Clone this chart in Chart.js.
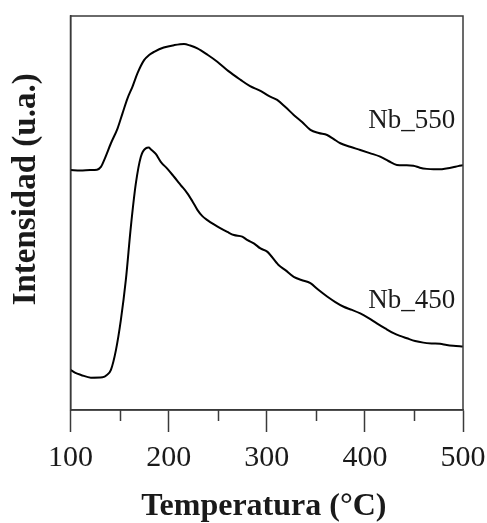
<!DOCTYPE html>
<html>
<head>
<meta charset="utf-8">
<script src="https://cdn.jsdelivr.net/npm/chart.js@4/dist/chart.umd.min.js"></script>
<style>
  html, body { margin: 0; padding: 0; background: #fff; }
  canvas { display: block; }
</style>
</head>
<body>
<canvas id="tpd" width="487" height="523"></canvas>
<script>
// TPD profiles: temperature (°C) and intensity (arbitrary units)
const temps550 = [100, 110, 120, 127, 131, 134.4, 141.2, 148, 153, 158.1, 163.2, 168.3, 175, 180.1, 185.2, 195, 205.5, 215.7, 222, 229.3, 240, 249.6, 261, 273.3, 283, 293.6, 302, 310.6, 319, 327.5, 336, 344.5, 353, 361.5, 368, 375, 385, 395.3, 405, 415.6, 424, 432.6, 441, 449.5, 456, 463.1, 470, 476.5, 483, 489.8, 495, 500];
const int550 = [60.9, 60.8, 60.9, 61.0, 61.7, 63.5, 67.7, 71.5, 75.3, 79.1, 82.1, 85.5, 88.8, 90.1, 90.9, 92.0, 92.6, 92.9, 92.5, 91.8, 90.1, 88.4, 86.0, 83.8, 82.2, 81.0, 79.7, 78.7, 76.9, 74.9, 73.1, 71.1, 70.3, 69.8, 68.8, 67.7, 66.8, 66.0, 65.2, 64.3, 63.2, 62.2, 62.1, 62.0, 61.5, 61.2, 61.1, 61.1, 61.3, 61.6, 61.9, 62.1];

const temps450 = [100, 105, 110.7, 120.8, 132.7, 137.1, 141.2, 146.3, 151.3, 156.4, 161.5, 166.6, 171.7, 176.7, 179.8, 181.8, 186.9, 192, 198.8, 205.5, 212.3, 219.1, 224.2, 229.3, 234.4, 239.5, 246.2, 253, 259.8, 266.5, 275, 280.4, 286.8, 293.6, 300.4, 312, 319, 327.5, 335.3, 344.5, 352.6, 361.5, 369.9, 378.4, 386.9, 395.3, 403.4, 412.2, 420.7, 429.2, 435.9, 442.8, 451.2, 459.6, 468.1, 476.6, 483.4, 490.1, 500];
const int450 = [10.2, 9.4, 8.9, 8.2, 8.3, 8.9, 10.2, 15.2, 22.8, 33.0, 46.5, 57.5, 64.3, 66.4, 66.6, 66.2, 65.0, 63.0, 61.2, 59.2, 57.1, 55.0, 53.0, 50.8, 49.2, 48.2, 47.1, 46.1, 45.2, 44.4, 44.0, 43.1, 42.3, 41.0, 40.2, 36.8, 35.5, 33.8, 33.0, 32.2, 30.5, 28.8, 27.4, 26.2, 25.4, 24.5, 23.4, 22.0, 20.7, 19.5, 18.8, 18.2, 17.5, 17.1, 16.9, 16.8, 16.5, 16.3, 16.1];

const seriesNames = ['Nb_550', 'Nb_450'];
const majorTicks = [100, 200, 300, 400, 500];
const minorTicks = [150, 250, 350, 450];
const xTitle = 'Temperatura (°C)';
const yTitle = 'Intensidad (u.a.)';

const SERIF = '"Liberation Serif", "DejaVu Serif", serif';
const INK = '#1a1a1a';
const FRAME = '#3a3a3a';

const toPoints = (xs, ys) => xs.map((x, i) => ({ x: x, y: ys[i] }));

// Frame, minor ticks, curve labels and axis titles
const decorations = {
  id: 'decorations',
  afterDraw(chart) {
    const { ctx, chartArea: a, scales: { x, y } } = chart;
    ctx.save();

    ctx.strokeStyle = FRAME;
    ctx.lineWidth = 1.5;
    ctx.strokeRect(a.left, a.top, a.right - a.left, a.bottom - a.top);

    ctx.beginPath();
    minorTicks.forEach(v => {
      const px = Math.round(x.getPixelForValue(v)) + 0.5;
      ctx.moveTo(px, a.bottom);
      ctx.lineTo(px, a.bottom + 11);
    });
    ctx.stroke();

    ctx.fillStyle = INK;
    ctx.font = '27px ' + SERIF;
    ctx.textAlign = 'right';
    ctx.textBaseline = 'alphabetic';
    ctx.fillText(seriesNames[0], x.getPixelForValue(492), y.getPixelForValue(71.6));
    ctx.fillText(seriesNames[1], x.getPixelForValue(492), y.getPixelForValue(25.9));

    ctx.font = 'bold 32px ' + SERIF;
    ctx.textAlign = 'center';
    ctx.fillText(xTitle, x.getPixelForValue(297), 515);

    ctx.translate(a.left - 44.5, y.getPixelForValue(56));
    ctx.rotate(-Math.PI / 2);
    ctx.textBaseline = 'middle';
    ctx.font = 'bold 33px ' + SERIF;
    ctx.fillText(yTitle, 0, 0);

    ctx.restore();
  }
};

new Chart(document.getElementById('tpd'), {
  type: 'line',
  data: {
    datasets: [
      { label: seriesNames[0], data: toPoints(temps550, int550) },
      { label: seriesNames[1], data: toPoints(temps450, int450) }
    ]
  },
  options: {
    responsive: false,
    devicePixelRatio: 1,
    animation: false,
    layout: { padding: { left: 0, right: 24, top: 16, bottom: 0 } },
    elements: {
      line: { borderColor: '#000', borderWidth: 2, cubicInterpolationMode: 'monotone', fill: false },
      point: { radius: 0, hoverRadius: 0 }
    },
    plugins: { legend: { display: false }, tooltip: { enabled: false } },
    scales: {
      x: {
        type: 'linear',
        min: 100,
        max: 500,
        afterBuildTicks: s => { s.ticks = majorTicks.map(v => ({ value: v })); },
        afterFit: s => { s.height = 113; s.paddingLeft = 0; s.paddingRight = 0; },
        grid: { drawOnChartArea: false, drawTicks: true, tickLength: 22, tickColor: FRAME, tickWidth: 1.5 },
        border: { display: true, color: FRAME, width: 1.5 },
        ticks: { color: INK, font: { family: SERIF, size: 30 }, padding: 8, maxRotation: 0 }
      },
      y: {
        min: 0,
        max: 100,
        afterFit: s => { s.width = 70.5; s.paddingTop = 0; s.paddingBottom = 0; },
        grid: { display: false },
        border: { display: true, color: FRAME, width: 1.5 },
        ticks: { display: false }
      }
    }
  },
  plugins: [decorations]
});
</script>
</body>
</html>
